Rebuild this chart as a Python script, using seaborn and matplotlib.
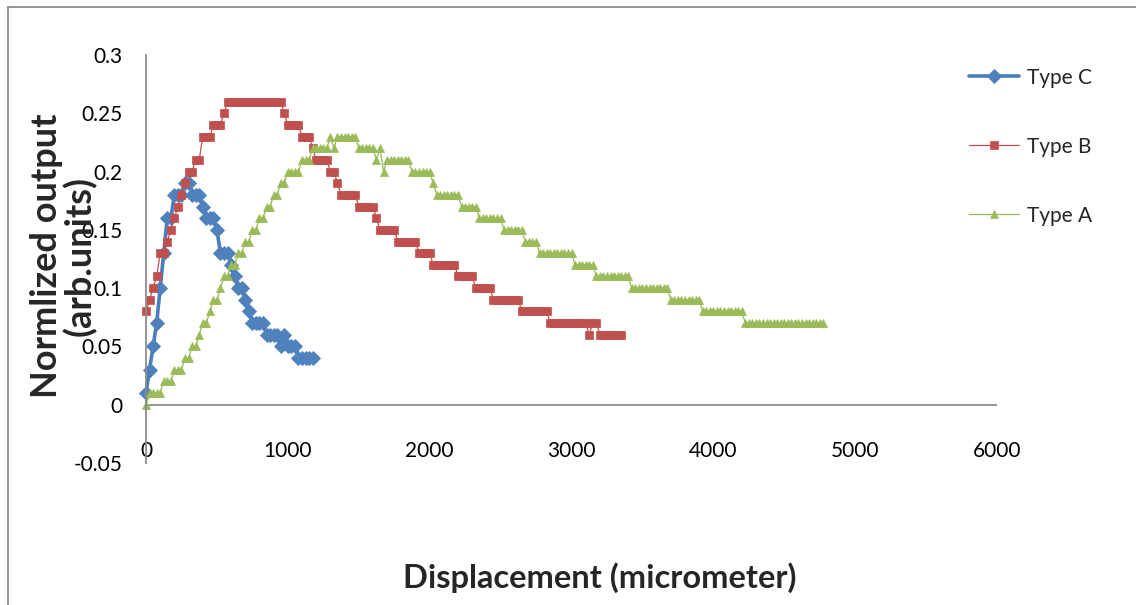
import matplotlib
matplotlib.use("Agg")
import matplotlib.pyplot as plt
from matplotlib.lines import Line2D
import seaborn as sns
import pandas as pd

# ---------------- data ----------------
x_c = [0, 25, 50, 75, 100, 125, 150, 175, 200, 225, 250, 275, 300, 325, 350, 375,
       400, 425, 450, 475, 500, 525, 550, 575, 600, 625, 650, 675, 700, 725, 750, 775,
       800, 825, 850, 875, 900, 925, 950, 975, 1000, 1025, 1050, 1075, 1100, 1125, 1150, 1175]
y_c = [0.01, 0.03, 0.05, 0.07, 0.10, 0.13, 0.16, 0.16, 0.18, 0.18, 0.18, 0.19, 0.19, 0.18, 0.18, 0.18,
       0.17, 0.16, 0.16, 0.16, 0.15, 0.13, 0.13, 0.13, 0.12, 0.11, 0.10, 0.10, 0.09, 0.08, 0.07, 0.07,
       0.07, 0.07, 0.06, 0.06, 0.06, 0.06, 0.05, 0.06, 0.05, 0.05, 0.05, 0.04, 0.04, 0.04, 0.04, 0.04]

x_b = [0, 25, 50, 75, 100, 125, 150, 175, 200, 225, 250, 275, 300, 325, 350, 375,
       400, 425, 450, 475, 500, 525, 550, 575, 600, 625, 650, 675, 700, 725, 750, 775,
       800, 825, 850, 875, 900, 925, 950, 975, 1000, 1025, 1050, 1075, 1100, 1125, 1150, 1175,
       1200, 1225, 1250, 1275, 1300, 1325, 1350, 1375, 1400, 1425, 1450, 1475, 1500, 1525, 1550, 1575,
       1600, 1625, 1650, 1675, 1700, 1725, 1750, 1775, 1800, 1825, 1850, 1875, 1900, 1925, 1950, 1975,
       2000, 2025, 2050, 2075, 2100, 2125, 2150, 2175, 2200, 2225, 2250, 2275, 2300, 2325, 2350, 2375,
       2400, 2425, 2450, 2475, 2500, 2525, 2550, 2575, 2600, 2625, 2650, 2675, 2700, 2725, 2750, 2775,
       2800, 2825, 2850, 2875, 2900, 2925, 2950, 2975, 3000, 3025, 3050, 3075, 3100, 3125, 3150, 3175,
       3200, 3225, 3250, 3275, 3300, 3325, 3350]
y_b = [0.08, 0.09, 0.10, 0.11, 0.13, 0.13, 0.14, 0.15, 0.16, 0.17, 0.18, 0.19, 0.20, 0.20, 0.21, 0.21,
       0.23, 0.23, 0.23, 0.24, 0.24, 0.24, 0.25, 0.26, 0.26, 0.26, 0.26, 0.26, 0.26, 0.26, 0.26, 0.26,
       0.26, 0.26, 0.26, 0.26, 0.26, 0.26, 0.26, 0.25, 0.24, 0.24, 0.24, 0.24, 0.23, 0.23, 0.23, 0.22,
       0.21, 0.21, 0.21, 0.21, 0.20, 0.20, 0.19, 0.18, 0.18, 0.18, 0.18, 0.18, 0.17, 0.17, 0.17, 0.17,
       0.17, 0.16, 0.15, 0.15, 0.15, 0.15, 0.15, 0.14, 0.14, 0.14, 0.14, 0.14, 0.14, 0.13, 0.13, 0.13,
       0.13, 0.12, 0.12, 0.12, 0.12, 0.12, 0.12, 0.12, 0.11, 0.11, 0.11, 0.11, 0.11, 0.10, 0.10, 0.10,
       0.10, 0.10, 0.09, 0.09, 0.09, 0.09, 0.09, 0.09, 0.09, 0.09, 0.08, 0.08, 0.08, 0.08, 0.08, 0.08,
       0.08, 0.08, 0.07, 0.07, 0.07, 0.07, 0.07, 0.07, 0.07, 0.07, 0.07, 0.07, 0.07, 0.06, 0.07, 0.07,
       0.06, 0.06, 0.06, 0.06, 0.06, 0.06, 0.06]

x_a = [0, 25, 50, 75, 100, 125, 150, 175, 200, 225, 250, 275, 300, 325, 350, 375,
       400, 425, 450, 475, 500, 525, 550, 575, 600, 625, 650, 675, 700, 725, 750, 775,
       800, 825, 850, 875, 900, 925, 950, 975, 1000, 1025, 1050, 1075, 1100, 1125, 1150, 1175,
       1200, 1225, 1250, 1275, 1300, 1325, 1350, 1375, 1400, 1425, 1450, 1475, 1500, 1525, 1550, 1575,
       1600, 1625, 1650, 1675, 1700, 1725, 1750, 1775, 1800, 1825, 1850, 1875, 1900, 1925, 1950, 1975,
       2000, 2025, 2050, 2075, 2100, 2125, 2150, 2175, 2200, 2225, 2250, 2275, 2300, 2325, 2350, 2375,
       2400, 2425, 2450, 2475, 2500, 2525, 2550, 2575, 2600, 2625, 2650, 2675, 2700, 2725, 2750, 2775,
       2800, 2825, 2850, 2875, 2900, 2925, 2950, 2975, 3000, 3025, 3050, 3075, 3100, 3125, 3150, 3175,
       3200, 3225, 3250, 3275, 3300, 3325, 3350, 3375, 3400, 3425, 3450, 3475, 3500, 3525, 3550, 3575,
       3600, 3625, 3650, 3675, 3700, 3725, 3750, 3775, 3800, 3825, 3850, 3875, 3900, 3925, 3950, 3975,
       4000, 4025, 4050, 4075, 4100, 4125, 4150, 4175, 4200, 4225, 4250, 4275, 4300, 4325, 4350, 4375,
       4400, 4425, 4450, 4475, 4500, 4525, 4550, 4575, 4600, 4625, 4650, 4675, 4700, 4725, 4750, 4775]
y_a = [0.00, 0.01, 0.01, 0.01, 0.01, 0.02, 0.02, 0.02, 0.03, 0.03, 0.03, 0.04, 0.04, 0.05, 0.05, 0.06,
       0.07, 0.07, 0.08, 0.09, 0.09, 0.10, 0.11, 0.11, 0.12, 0.12, 0.13, 0.13, 0.14, 0.14, 0.15, 0.15,
       0.16, 0.16, 0.17, 0.17, 0.18, 0.18, 0.19, 0.19, 0.20, 0.20, 0.20, 0.20, 0.21, 0.21, 0.21, 0.22,
       0.22, 0.22, 0.22, 0.22, 0.23, 0.22, 0.23, 0.23, 0.23, 0.23, 0.23, 0.23, 0.22, 0.22, 0.22, 0.22,
       0.22, 0.21, 0.22, 0.20, 0.21, 0.21, 0.21, 0.21, 0.21, 0.21, 0.21, 0.20, 0.20, 0.20, 0.20, 0.20,
       0.20, 0.19, 0.18, 0.18, 0.18, 0.18, 0.18, 0.18, 0.18, 0.17, 0.17, 0.17, 0.17, 0.17, 0.16, 0.16,
       0.16, 0.16, 0.16, 0.16, 0.16, 0.15, 0.15, 0.15, 0.15, 0.15, 0.15, 0.14, 0.14, 0.14, 0.14, 0.13,
       0.13, 0.13, 0.13, 0.13, 0.13, 0.13, 0.13, 0.13, 0.13, 0.12, 0.12, 0.12, 0.12, 0.12, 0.12, 0.11,
       0.11, 0.11, 0.11, 0.11, 0.11, 0.11, 0.11, 0.11, 0.11, 0.10, 0.10, 0.10, 0.10, 0.10, 0.10, 0.10,
       0.10, 0.10, 0.10, 0.10, 0.09, 0.09, 0.09, 0.09, 0.09, 0.09, 0.09, 0.09, 0.09, 0.08, 0.08, 0.08,
       0.08, 0.08, 0.08, 0.08, 0.08, 0.08, 0.08, 0.08, 0.08, 0.07, 0.07, 0.07, 0.07, 0.07, 0.07, 0.07,
       0.07, 0.07, 0.07, 0.07, 0.07, 0.07, 0.07, 0.07, 0.07, 0.07, 0.07, 0.07, 0.07, 0.07, 0.07, 0.07]

series_names = ["Type C", "Type B", "Type A"]
x_ticks = [0, 1000, 2000, 3000, 4000, 5000, 6000]
y_ticks = [-0.05, 0, 0.05, 0.1, 0.15, 0.2, 0.25, 0.3]
y_tick_labels = ["-0.05", "0", "0.05", "0.1", "0.15", "0.2", "0.25", "0.3"]

# ---------------- style ----------------
sns.set_theme(style="white")
plt.rcParams["font.family"] = ["Lato", "DejaVu Sans"]

W, H = 1136, 605
fig = plt.figure(figsize=(W / 100, H / 100), dpi=100)
fig.patch.set_facecolor("white")

ax_l, ax_r, ax_t, ax_b = 146, 997, 55, 463
ax = fig.add_axes([ax_l / W, 1 - ax_b / H, (ax_r - ax_l) / W, (ax_b - ax_t) / H])
ax.set_facecolor("white")

styles = {
    "Type C": dict(color="#4A7EBB", marker="D", linewidth=2.6, markersize=7.0,
                   markerfacecolor="#4F81BD", markeredgecolor="#4F81BD", markeredgewidth=0.6),
    "Type B": dict(color="#C0504D", marker="s", linewidth=0.9, markersize=5.6,
                   markerfacecolor="#C0504D", markeredgecolor="#C0504D", markeredgewidth=0.5),
    "Type A": dict(color="#98B954", marker="^", linewidth=0.9, markersize=6.4,
                   markerfacecolor="#9BBB59", markeredgecolor="#9BBB59", markeredgewidth=0.5),
}
data = {"Type C": (x_c, y_c), "Type B": (x_b, y_b), "Type A": (x_a, y_a)}

for name in series_names:
    xs, ys = data[name]
    df = pd.DataFrame({"x": xs, "y": ys})
    sns.lineplot(data=df, x="x", y="y", ax=ax, estimator=None, sort=False,
                 label=name, clip_on=False, **styles[name])

ax.set_xlim(0, 6000)
ax.set_ylim(-0.05, 0.3)
ax.set_xticks(x_ticks)
ax.set_xticklabels([str(t) for t in x_ticks])
ax.set_yticks(y_ticks)
ax.set_yticklabels(y_tick_labels)

axis_gray = "#8C8C8C"
for s in ["top", "right", "bottom"]:
    ax.spines[s].set_visible(False)
ax.spines["left"].set_color(axis_gray)
ax.spines["left"].set_linewidth(1.3)
ax.axhline(0, color=axis_gray, linewidth=1.3, zorder=0.5)

ax.tick_params(axis="both", length=0, labelsize=15, colors="black")
ax.tick_params(axis="y", pad=17)
ax.tick_params(axis="x", pad=-16)

ax.set_xlabel("")
ax.set_ylabel("")
fig.text(600 / W, 1 - 578 / H, "Displacement (micrometer)",
         ha="center", va="center", fontsize=23.5, fontweight="bold")
fig.text(63 / W, 1 - 256 / H, "Normlized output\n(arb.units)", ha="center", va="center",
         rotation=90, fontsize=26, fontweight="bold", linespacing=0.98)

# legend
leg = ax.legend(loc="upper left", bbox_to_anchor=(950 / W, 1 - 49 / H),
                bbox_transform=fig.transFigure, frameon=False, fontsize=15,
                handlelength=2.4, handletextpad=0.4, labelspacing=2.35, numpoints=1)

# outer chart frame
fig.add_artist(Line2D([8 / W, 8 / W], [1 - 7 / H, 0], transform=fig.transFigure,
                      color=axis_gray, linewidth=1.3))
fig.add_artist(Line2D([8 / W, 1], [1 - 7 / H, 1 - 7 / H], transform=fig.transFigure,
                      color=axis_gray, linewidth=1.3))

fig.savefig("out.png", dpi=100)
